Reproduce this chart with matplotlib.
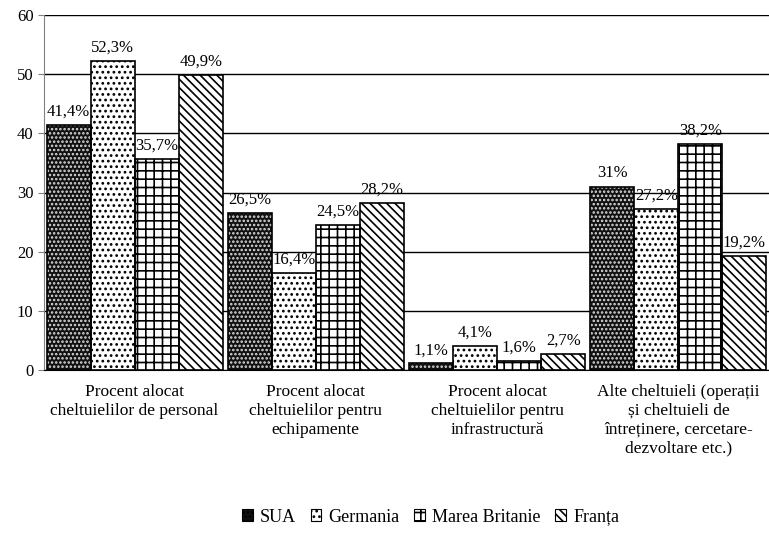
import numpy as np
import matplotlib
matplotlib.use("Agg")
import matplotlib.pyplot as plt
from matplotlib.patches import Patch

plt.rcParams["font.family"] = ["Liberation Serif", "DejaVu Serif"]
plt.rcParams["hatch.linewidth"] = 1.2

categories = [
    "Procent alocat\ncheltuielilor de personal",
    "Procent alocat\ncheltuielilor pentru\nechipamente",
    "Procent alocat\ncheltuielilor pentru\ninfrastructură",
    "Alte cheltuieli (operații\nși cheltuieli de\nîntreținere, cercetare-\ndezvoltare etc.)",
]
countries = ["SUA", "Germania", "Marea Britanie", "Franța"]
sua = [41.4, 26.5, 1.1, 31.0]
germania = [52.3, 16.4, 4.1, 27.2]
marea_britanie = [35.7, 24.5, 1.6, 38.2]
franta = [49.9, 28.2, 2.7, 19.2]
series = [sua, germania, marea_britanie, franta]

# fill colour, hatch, hatch colour per country
styles = [
    ("#111111", "....", "#dddddd"),
    ("white", "...", "black"),
    ("white", "++", "black"),
    ("white", "\\\\\\\\", "black"),
]


def fmt(v):
    s = f"{v:.1f}".rstrip("0").rstrip(".")
    return s.replace(".", ",") + "%"


fig = plt.figure(figsize=(7.69, 5.36), dpi=100)
ax = fig.add_axes([44 / 769, 1 - 370 / 536, 1 - 44 / 769, (370 - 15) / 536])

x = np.arange(len(categories))
width = 0.243
for i, vals in enumerate(series):
    fc, hatch, hc = styles[i]
    pos = x + (i - 1.5) * width
    ax.bar(pos, vals, width, color=fc, hatch=hatch, edgecolor=hc, linewidth=0, zorder=2)
    ax.bar(pos, vals, width, fill=False, edgecolor="black", linewidth=1.2, zorder=3)
    for p, v in zip(pos, vals):
        ax.text(p, v + 0.9, fmt(v), ha="center", va="bottom", fontsize=12)

ax.set_xlim(-0.5, len(categories) - 0.5)
ax.set_ylim(0, 60)
ax.set_yticks(range(0, 61, 10))
ax.yaxis.grid(True, color="black", linewidth=1)
ax.set_axisbelow(True)
ax.set_xticks(x)
ax.set_xticklabels(categories, fontsize=12.5, linespacing=1.25)
ax.tick_params(axis="x", length=0, pad=10)
ax.tick_params(axis="y", labelsize=12, length=4, direction="out", color="gray")
for side in ["top", "right"]:
    ax.spines[side].set_visible(False)
ax.spines["left"].set_color("gray")
ax.spines["bottom"].set_color("black")

handles = [
    Patch(facecolor=styles[i][0], hatch=styles[i][1], edgecolor="black", linewidth=0.8)
    for i in range(4)
]
fig.legend(handles, countries, loc="center", bbox_to_anchor=(0.56, 1 - 517 / 536), ncol=4,
           frameon=False, fontsize=13, handlelength=0.6, handleheight=0.6,
           handletextpad=0.4, columnspacing=0.8)

fig.savefig("out.png", dpi=100)
